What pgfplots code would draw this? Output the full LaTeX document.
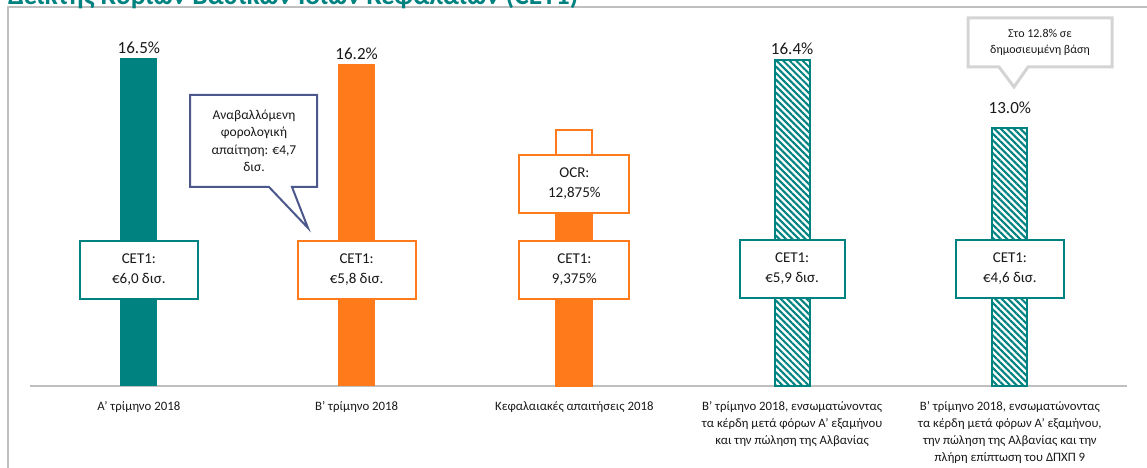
\documentclass[border=0pt]{standalone}
\usepackage{fontspec}
\setmainfont{Carlito}
\usepackage{pgfplots}
\pgfplotsset{compat=1.18}
\usetikzlibrary{patterns.meta}
\definecolor{teal1}{RGB}{0,130,128}
\definecolor{orng}{RGB}{255,122,26}
\definecolor{navy1}{RGB}{76,88,140}
\definecolor{framec}{RGB}{191,191,191}
\definecolor{cgray}{RGB}{212,212,212}
\definecolor{txt}{RGB}{25,25,25}
\tikzset{lbox/.style={fill=white, line width=2bp, minimum height=58bp, align=center, font=\fontsize{15bp}{20bp}\selectfont, text=txt, inner sep=0pt}}
\pgfplotsset{vlab/.style={nodes near coords={\pgfmathprintnumber[fixed,fixed zerofill,precision=1]{\pgfplotspointmeta}\%},
    every node near coord/.append style={font=\fontsize{17bp}{19bp}\selectfont, text=txt, anchor=south, yshift=1bp}}}
\begin{document}
\begin{tikzpicture}
\useasboundingbox (0,0) rectangle (1147bp,468bp);
\draw[framec, line width=2bp] (8bp,0) -- (8bp,460.5bp) -- (1147bp,460.5bp);
\begin{scope}
\clip (0,0) rectangle (1147bp,468bp);
\node[anchor=base west, inner sep=0, text=teal1, font=\bfseries\fontsize{27.5bp}{30bp}\selectfont] at (8bp,463bp) {Δείκτης Κυρίων Βασικών Ιδίων Κεφαλαίων (CET1)};
\end{scope}
\begin{axis}[
  at={(30bp,82bp)}, anchor=south west,
  scale only axis, width=1097bp, height=357.84bp,
  xmin=-0.5, xmax=4.538, ymin=0, ymax=18,
  axis x line*=bottom, hide y axis,
  x axis line style={draw=framec, line width=2bp, -},
  xtick={0,1,2,3,4},
  xticklabels={{Α' τρίμηνο 2018},{Β' τρίμηνο 2018},{Κεφαλαιακές απαιτήσεις 2018},{Β' τρίμηνο 2018, ενσωματώνοντας\\τα κέρδη μετά φόρων Α' εξαμήνου\\και την πώληση της Αλβανίας},{Β' τρίμηνο 2018, ενσωματώνοντας\\τα κέρδη μετά φόρων Α' εξαμήνου,\\την πώληση της Αλβανίας και την\\πλήρη επίπτωση του ΔΠΧΠ 9}},
  major tick length=0pt,
  xticklabel style={align=center, font=\fontsize{12.8bp}{17bp}\selectfont, text=txt, yshift=-12bp},
  ybar, bar width=37bp, bar shift=0pt,
  clip=false,
  /pgf/number format/assume math mode=true,
]
\addplot[fill=teal1, draw=none, vlab] coordinates {(0,16.5)};
\addplot[fill=orng, draw=none, vlab] coordinates {(1,16.2)};
\addplot[fill=white, draw=orng, line width=2bp, bar width=36bp] coordinates {(2,12.875)};
\addplot[fill=orng, draw=orng, line width=2bp, bar width=36bp] coordinates {(2,9.375)};
\addplot[draw=teal1, line width=2bp, bar width=35bp, pattern={Lines[angle=-45,distance=4.6bp,line width=2.1bp]}, pattern color=teal1, vlab] coordinates {(3,16.4)};
\addplot[draw=teal1, line width=2bp, bar width=35bp, pattern={Lines[angle=-45,distance=4.6bp,line width=2.1bp]}, pattern color=teal1, vlab, every node near coord/.append style={yshift=9bp}] coordinates {(4,13.0)};
\node[lbox, draw=teal1, minimum width=118bp] at (axis cs:0,5.835) {CET1:\\€6,0 δισ.};
\node[lbox, draw=orng, minimum width=118bp] at (axis cs:1,5.835) {CET1:\\€5,8 δισ.};
\node[lbox, draw=orng, minimum width=110bp] at (axis cs:2,5.835) {CET1:\\9,375\%};
\node[lbox, draw=orng, minimum width=110bp] at (axis cs:2,10.16) {OCR:\\12,875\%};
\node[lbox, draw=teal1, minimum width=105bp] at (axis cs:3,5.885) {CET1:\\€5,9 δισ.};
\node[lbox, draw=teal1, minimum width=108bp] at (axis cs:4,5.885) {CET1:\\€4,6 δισ.};
\end{axis}
\begin{scope}[x=1bp, y=-1bp, yshift=468bp]
\draw[navy1, line width=2bp, fill=white, line join=miter] (190,95) -- (317,95) -- (317,187) -- (292,187) -- (308,228) -- (269,187) -- (190,187) -- cycle;
\node[align=center, text=txt, font=\fontsize{13.5bp}{17.5bp}\selectfont] at (254,141) {Αναβαλλόμενη\\φορολογική\\απαίτηση: €4,7\\δισ.};
\draw[cgray, line width=3bp, fill=white, line join=miter] (968,18) -- (1112,18) -- (1112,67) -- (1028,67) -- (1014,87) -- (999,67) -- (968,67) -- cycle;
\node[align=center, text=txt, font=\fontsize{12bp}{16bp}\selectfont] at (1040,42.5) {Στο 12.8\% σε\\δημοσιευμένη βάση};
\end{scope}
\end{tikzpicture}
\end{document}
